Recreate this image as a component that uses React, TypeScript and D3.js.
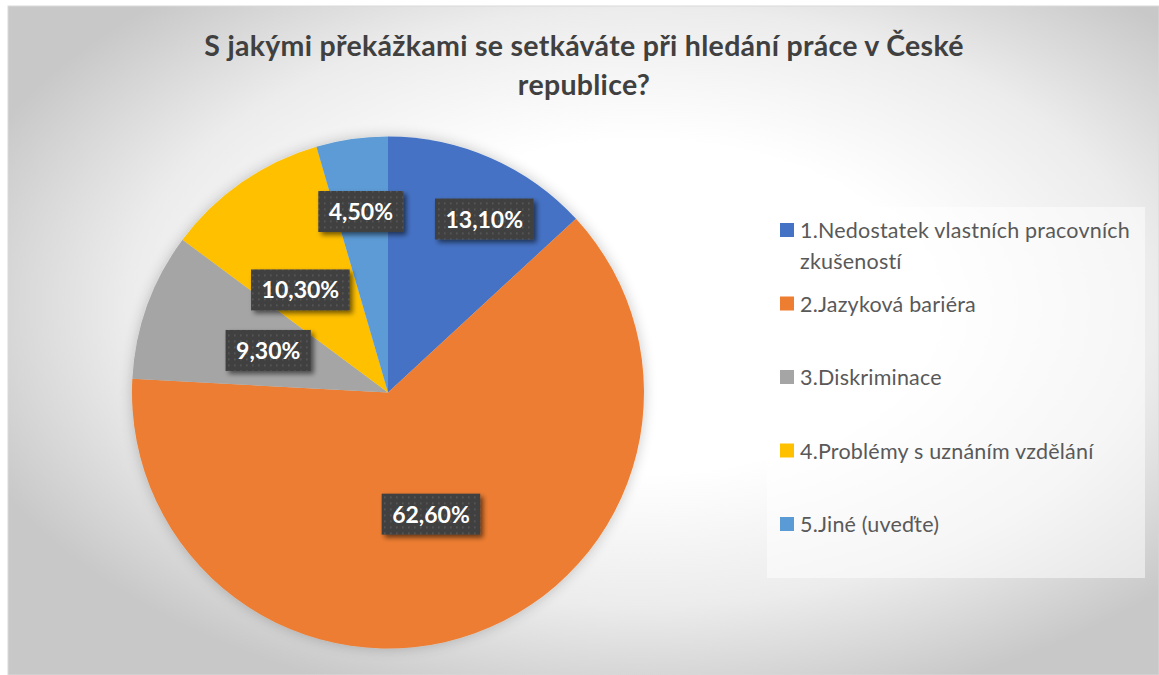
import React, { useMemo } from 'react';
import * as d3 from 'd3';

const TITLE_LINES = ['S jakými překážkami se setkáváte při hledání práce v České', 'republice?'];
const CATEGORIES = [
  '1.Nedostatek vlastních pracovních zkušeností',
  '2.Jazyková bariéra',
  '3.Diskriminace',
  '4.Problémy s uznáním vzdělání',
  '5.Jiné (uveďte)',
];
const LEGEND_LINES = [
  ['1.Nedostatek vlastních pracovních', 'zkušeností'],
  ['2.Jazyková bariéra'],
  ['3.Diskriminace'],
  ['4.Problémy s uznáním vzdělání'],
  ['5.Jiné (uveďte)'],
];
const VALUES = [13.1, 62.6, 9.3, 10.3, 4.5];
const COLORS = ['#4472C4', '#ED7D31', '#A5A5A5', '#FFC000', '#5B9BD5'];

// label layout (best-fit like placement): radial fraction and angular nudge in degrees
const LABEL_RADIAL = [0.775, 0.504, 0.496, 0.527, 0.715];
const LABEL_NUDGE = [5.4, 0.4, -0.5, -5.7, -0.4];

const W = 1159;
const H = 675;
const FONT = 'Lato, "Open Sans", sans-serif';

function measure(text: string, font: string): number {
  const c = document.createElement('canvas');
  const ctx = c.getContext('2d');
  if (!ctx) return text.length * 12;
  ctx.font = font;
  return ctx.measureText(text).width;
}

export default function App() {
  const cx = 388;
  const cy = 392.5;
  const r = 256;

  const pie = useMemo(
    () => d3.pie<number>().sort(null).value((d) => d)(VALUES),
    []
  );
  const arc = d3.arc<d3.PieArcDatum<number>>().innerRadius(0).outerRadius(r);

  const fmt = (v: number) => v.toFixed(2).replace('.', ',') + '%';

  const legendX = 767;
  const legendY = 207;
  const legendW = 378;
  const legendH = 371;
  const itemY = d3.scaleLinear().domain([0, 4]).range([238, 532]);

  return (
    <svg width={W} height={H} style={{ position: 'absolute', left: 0, top: 0 }} fontFamily={FONT}>
      <defs>
        <radialGradient id="bg" cx="0.55" cy="0.45" r="0.62" gradientUnits="objectBoundingBox">
          <stop offset="0" stopColor="#ffffff" />
          <stop offset="0.4" stopColor="#ffffff" />
          <stop offset="0.72" stopColor="#ececec" />
          <stop offset="1" stopColor="#c8c8c8" />
        </radialGradient>
        <pattern id="dots" width="6" height="6" patternUnits="userSpaceOnUse">
          <rect width="6" height="6" fill="#404040" />
          <rect x="2" y="2" width="1.6" height="1.6" fill="#5a5a5a" />
        </pattern>
        <filter id="pieShadow" x="-20%" y="-20%" width="140%" height="140%">
          <feGaussianBlur in="SourceAlpha" stdDeviation="7" />
          <feComponentTransfer>
            <feFuncA type="linear" slope="0.22" />
          </feComponentTransfer>
          <feMerge>
            <feMergeNode />
            <feMergeNode in="SourceGraphic" />
          </feMerge>
        </filter>
        <filter id="boxShadow" x="-20%" y="-30%" width="150%" height="170%">
          <feGaussianBlur in="SourceAlpha" stdDeviation="2.5" />
          <feOffset dx="3" dy="3" result="ob" />
          <feComponentTransfer>
            <feFuncA type="linear" slope="0.55" />
          </feComponentTransfer>
          <feMerge>
            <feMergeNode />
            <feMergeNode in="SourceGraphic" />
          </feMerge>
        </filter>
      </defs>

      <rect x={8} y={6} width={W - 8} height={H - 6} fill="url(#bg)" stroke="#d9d9d9" strokeWidth={1} />

      {TITLE_LINES.map((t, i) => (
        <text
          key={i}
          x={584}
          y={56 + i * 39}
          textAnchor="middle"
          fontSize={28.5}
          letterSpacing={0.3}
          fontWeight="bold"
          fill="#404040"
        >
          {t}
        </text>
      ))}

      <g transform={`translate(${cx},${cy})`} filter="url(#pieShadow)">
        {pie.map((p, i) => (
          <path key={i} d={arc(p) || ''} fill={COLORS[i]} />
        ))}
      </g>

      <g transform={`translate(${cx},${cy})`}>
        {pie.map((p, i) => {
          const mid = (p.startAngle + p.endAngle) / 2 + (LABEL_NUDGE[i] * Math.PI) / 180;
          const rr = r * LABEL_RADIAL[i];
          const x = Math.sin(mid) * rr;
          const y = -Math.cos(mid) * rr;
          const label = fmt(VALUES[i]);
          const tw = measure(label, `bold 23px ${FONT}`);
          const bw = tw + 21;
          const bh = 41;
          return (
            <g key={i}>
              <rect
                x={x - bw / 2}
                y={y - bh / 2}
                width={bw}
                height={bh}
                fill="url(#dots)"
                filter="url(#boxShadow)"
              />
              <text
                x={x}
                y={y + 8.5}
                textAnchor="middle"
                fontSize={23}
                fontWeight="bold"
                fill="#ffffff"
              >
                {label}
              </text>
            </g>
          );
        })}
      </g>

      <rect x={legendX} y={legendY} width={legendW} height={legendH} fill="#ffffff" fillOpacity={0.5} />
      {CATEGORIES.map((c, i) => {
        const by = itemY(i);
        return (
          <g key={c}>
            <rect x={780} y={by - 15} width={14} height={14} fill={COLORS[i]} />
            {LEGEND_LINES[i].map((ln, j) => (
              <text key={j} x={800} y={by + j * 31} fontSize={21.5} letterSpacing={0.2} fill="#595959">
                {ln}
              </text>
            ))}
          </g>
        );
      })}
    </svg>
  );
}
